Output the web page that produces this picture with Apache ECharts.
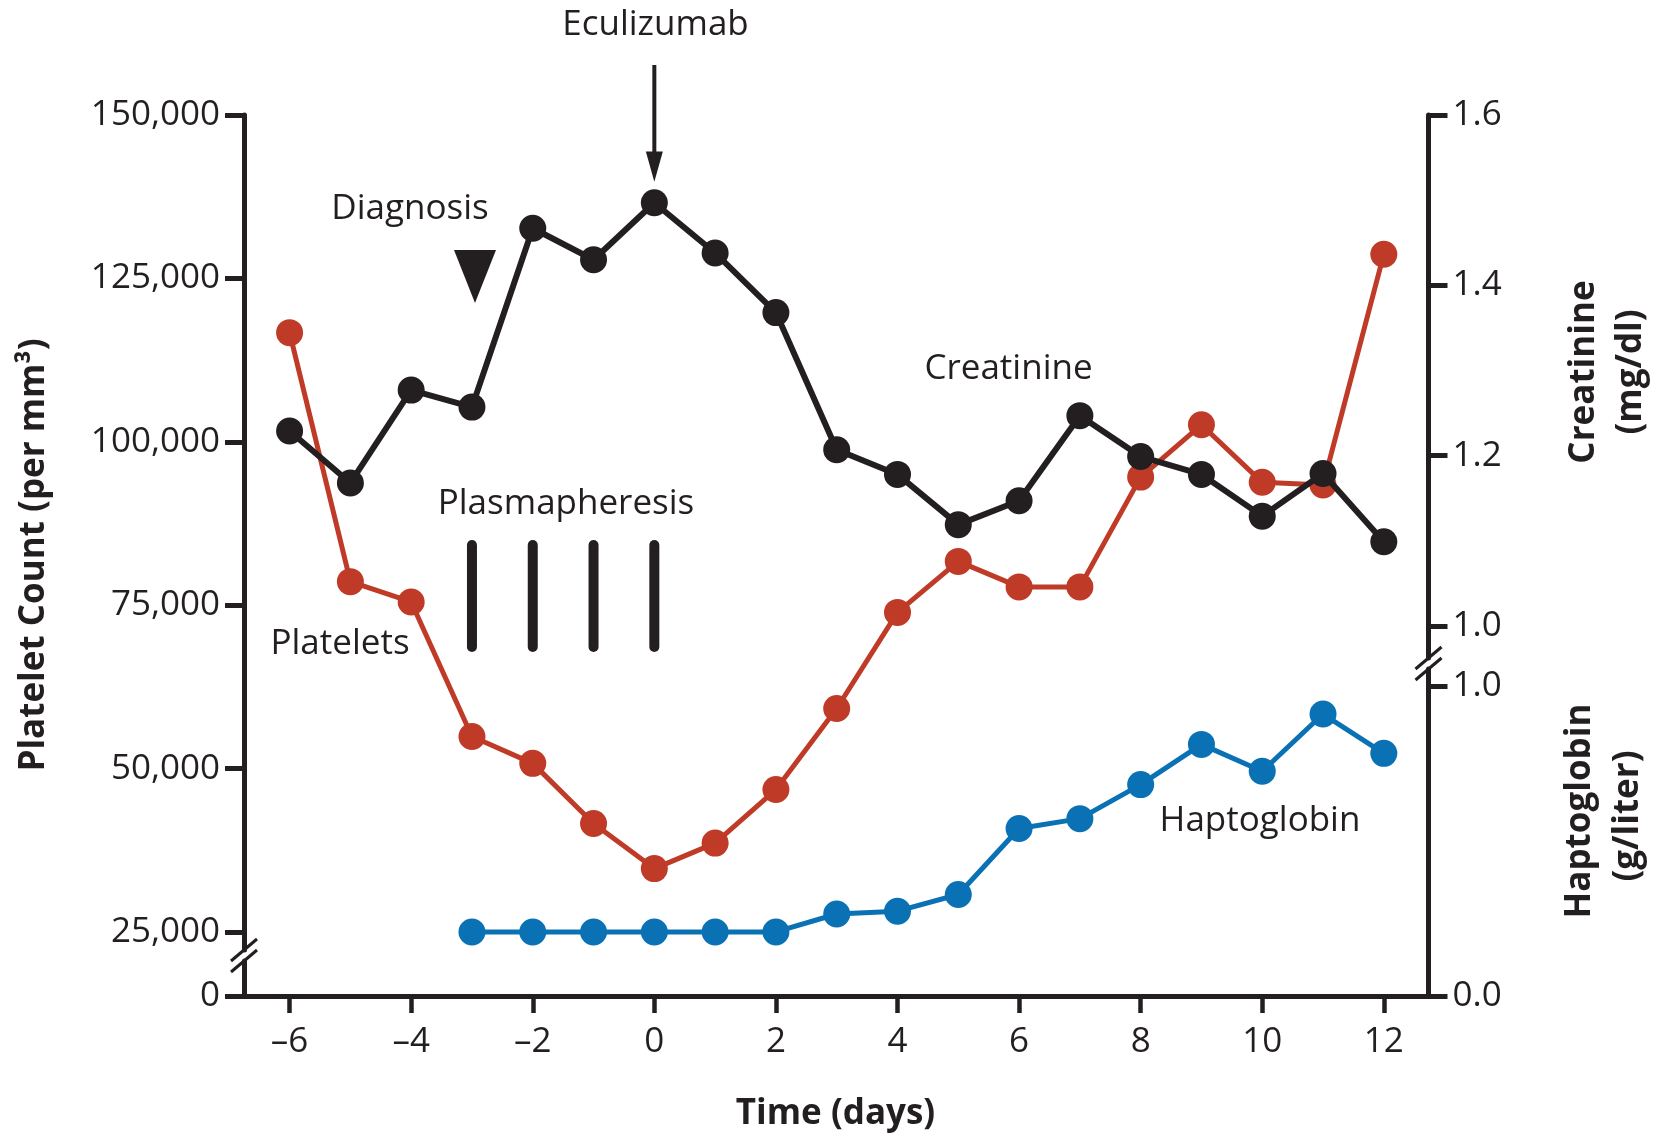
<!DOCTYPE html>
<html>
<head>
<meta charset="utf-8">
<script src="https://cdn.jsdelivr.net/npm/echarts@6/dist/echarts.min.js"></script>
<style>
html,body{margin:0;padding:0;background:#fff;}
#chart{width:1669px;height:1134px;}
</style>
</head>
<body>
<div id="chart"></div>
<script>
// ---------- data ----------
const days = [-6,-5,-4,-3,-2,-1,0,1,2,3,4,5,6,7,8,9,10,11,12];
const platelets = [116700,78600,75500,54900,50800,41600,34700,38600,46800,59200,73900,81700,77800,77800,94600,102600,93800,93400,128700];
const creatinine = [1.229,1.168,1.277,1.257,1.467,1.430,1.497,1.438,1.368,1.207,1.178,1.119,1.147,1.247,1.199,1.178,1.129,1.179,1.099];
const haptoDays = [-3,-2,-1,0,1,2,3,4,5,6,7,8,9,10,11,12];
const haptoglobin = [0.207,0.207,0.207,0.207,0.207,0.207,0.265,0.274,0.328,0.541,0.573,0.683,0.813,0.726,0.911,0.784];
const xTicks = [-6,-4,-2,0,2,4,6,8,10,12];
const plateletTicks = [25000,50000,75000,100000,125000,150000];
const zeroTicks = [0];
const creatinineTicks = [1.0,1.2,1.4,1.6];
const haptoTicks = [0.0,1.0];
const plasmapheresisDays = [-3,-2,-1,0];
const plasmapheresisSpan = [68600,84200];      // platelet-axis units
const diagnosisMark = [-2.95,125300];          // day, platelet-axis units
const eculizumabArrow = [0,157650,144400,139800]; // day, top, head base, tip (platelet-axis units)

// ---------- style ----------
const INK = '#231f20';
const RED = '#bf3b27';
const BLUE = '#0a72b4';
const FONT = "'Open Sans','Noto Sans',sans-serif";
const FS = 35;

const GL = 244, GW = 1184.5;
const XMIN = -6.75, XMAX = 12.735;

const chart = echarts.init(document.getElementById('chart'), null, {renderer:'canvas'});

function hiddenX(i){
  return {gridIndex:i, type:'value', min:XMIN, max:XMAX, show:false};
}
const axisLineStyle = {show:true, onZero:false, lineStyle:{color:INK, width:5}};
function tickStyle(vals, len){
  return {show:true, customValues:vals, length:len, inside:false, lineStyle:{color:INK, width:5}};
}
function labelStyle(vals, fmt, margin){
  return {show:true, customValues:vals, formatter:fmt, margin:margin, color:INK, fontSize:FS, fontFamily:FONT};
}
const fmtThousands = v => Math.round(v).toLocaleString('en-US');
const fmtOne = v => Number(v).toFixed(1);
const fmtDay = v => v < 0 ? '\u2013' + Math.abs(v) : String(v);

const option = {
  backgroundColor:'#fff',
  animation:false,
  grid:[
    {left:GL, width:GW, top:115, height:835, outerBoundsMode:'none'},   // platelets (upper)
    {left:GL, width:GW, top:961, height:35, outerBoundsMode:'none'},    // platelets zero segment
    {left:GL, width:GW, top:115, height:543, outerBoundsMode:'none'},   // creatinine
    {left:GL, width:GW, top:669, height:327, outerBoundsMode:'none'}    // haptoglobin
  ],
  xAxis:[
    hiddenX(0), hiddenX(1), hiddenX(2),
    {gridIndex:3, type:'value', min:XMIN, max:XMAX, position:'bottom',
     axisLine:axisLineStyle,
     axisTick:{show:true, customValues:xTicks, length:17, lineStyle:{color:INK, width:4.5}},
     axisLabel:labelStyle(xTicks, fmtDay, 29),
     splitLine:{show:false}}
  ],
  yAxis:[
    {gridIndex:0, type:'value', position:'left', min:22246, max:150000,
     axisLine:axisLineStyle, axisTick:tickStyle(plateletTicks,19),
     axisLabel:labelStyle(plateletTicks, fmtThousands, 24), splitLine:{show:false}},
    {gridIndex:1, type:'value', position:'left', min:0, max:1,
     axisLine:axisLineStyle, axisTick:tickStyle(zeroTicks,19),
     axisLabel:labelStyle(zeroTicks, v => '0', 24), splitLine:{show:false}},
    {gridIndex:2, type:'value', position:'right', min:0.96243, max:1.6,
     axisLine:axisLineStyle, axisTick:tickStyle(creatinineTicks,19),
     axisLabel:labelStyle(creatinineTicks, fmtOne, 24), splitLine:{show:false}},
    {gridIndex:3, type:'value', position:'right', min:0, max:1.05654,
     axisLine:axisLineStyle, axisTick:tickStyle(haptoTicks,19),
     axisLabel:labelStyle(haptoTicks, fmtOne, 24), splitLine:{show:false}}
  ],
  series:[
    {name:'Platelets', type:'line', xAxisIndex:0, yAxisIndex:0, z:3, clip:false,
     data:days.map((d,i)=>[d, platelets[i]]),
     symbol:'circle', symbolSize:27, showSymbol:true,
     lineStyle:{color:RED, width:5}, itemStyle:{color:RED, opacity:1}},
    {name:'Haptoglobin', type:'line', xAxisIndex:3, yAxisIndex:3, z:3, clip:false,
     data:haptoDays.map((d,i)=>[d, haptoglobin[i]]),
     symbol:'circle', symbolSize:27, showSymbol:true,
     lineStyle:{color:BLUE, width:5}, itemStyle:{color:BLUE, opacity:1}},
    {name:'Creatinine', type:'line', xAxisIndex:2, yAxisIndex:2, z:4, clip:false,
     data:days.map((d,i)=>[d, creatinine[i]]),
     symbol:'circle', symbolSize:27, showSymbol:true,
     lineStyle:{color:INK, width:6}, itemStyle:{color:INK, opacity:1}},
    {name:'Plasmapheresis', type:'custom', xAxisIndex:0, yAxisIndex:0, z:2, clip:false,
     data:plasmapheresisDays.map(d=>[d, plasmapheresisSpan[0], plasmapheresisSpan[1]]),
     encode:{x:0, y:[1,2]},
     renderItem:function(params, api){
       const a = api.coord([api.value(0), api.value(1)]);
       const b = api.coord([api.value(0), api.value(2)]);
       return {type:'line', shape:{x1:a[0], y1:a[1], x2:b[0], y2:b[1]},
               style:{stroke:INK, lineWidth:10, lineCap:'round'}};
     }},
    {name:'Diagnosis', type:'scatter', xAxisIndex:0, yAxisIndex:0, z:2, clip:false,
     data:[diagnosisMark], symbol:'triangle', symbolRotate:180, symbolSize:[42,53],
     itemStyle:{color:INK, opacity:1}, emphasis:{disabled:true}},
    {name:'Eculizumab', type:'custom', xAxisIndex:0, yAxisIndex:0, z:2, clip:false,
     data:[eculizumabArrow], encode:{x:0, y:[1,2,3]},
     renderItem:function(params, api){
       const top = api.coord([api.value(0), api.value(1)]);
       const base = api.coord([api.value(0), api.value(2)]);
       const tip = api.coord([api.value(0), api.value(3)]);
       const hw = 8.5;
       return {type:'group', children:[
         {type:'line', shape:{x1:top[0], y1:top[1], x2:base[0], y2:base[1]+2},
          style:{stroke:INK, lineWidth:4}},
         {type:'polygon', shape:{points:[[base[0]-hw, base[1]],[base[0]+hw, base[1]],[tip[0], tip[1]]]},
          style:{fill:INK}}
       ]};
     }}
  ],
  graphic:[]
};

chart.setOption(option);

// ---------- annotations & axis titles ----------
function txt(s, x, y, opts){
  opts = opts || {};
  return {type:'text', x:x, y:y, rotation:opts.rot || 0, z:10,
    style:{text:s, font:(opts.bold ? 'bold ' : '') + FS + 'px ' + FONT, fill:INK,
           align:'center', verticalAlign:'middle', textAlign:'center', textVerticalAlign:'middle'}};
}
function slash(cx, cy){
  return {type:'line', z:10, shape:{x1:cx-13, y1:cy+11, x2:cx+13, y2:cy-11},
          style:{stroke:INK, lineWidth:3}};
}
const R90 = Math.PI/2;
chart.setOption({graphic:[
  txt('Eculizumab', 655.5, 25),
  txt('Diagnosis', 410, 209),
  txt('Plasmapheresis', 566, 504),
  txt('Platelets', 340, 644),
  txt('Creatinine', 1008.5, 369),
  txt('Haptoglobin', 1260, 821),
  txt('Platelet Count (per mm\u00b3)', 34, 555, {bold:true, rot:R90}),
  txt('Time (days)', 835.5, 1114, {bold:true}),
  txt('Creatinine', 1584, 372, {bold:true, rot:R90}),
  txt('(mg/dl)', 1631, 372, {bold:true, rot:R90}),
  txt('Haptoglobin', 1580, 811, {bold:true, rot:R90}),
  txt('(g/liter)', 1628, 816, {bold:true, rot:R90}),
  slash(GL, 950),
  slash(GL, 961),
  slash(GL + GW, 658),
  slash(GL + GW, 669)
]});
</script>
</body>
</html>
